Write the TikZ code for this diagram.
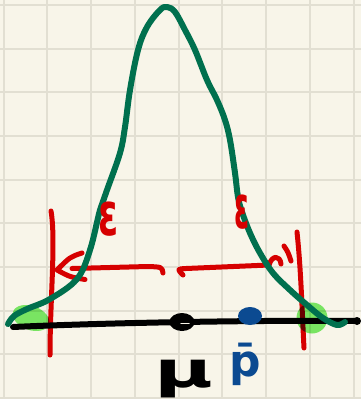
\documentclass[tikz,border=0pt]{standalone}
\usepackage{fontspec}
\setmainfont{DejaVu Sans}
\definecolor{paper}{HTML}{F8F5E9}
\definecolor{gridc}{HTML}{E2DFD2}
\definecolor{curvegreen}{HTML}{00704E}
\definecolor{penred}{HTML}{D60000}
\definecolor{penblue}{HTML}{0B4A91}
\definecolor{hilite}{HTML}{7DEE6C}
\begin{document}
\begin{tikzpicture}[x=1pt,y=-1pt,
  gridline/.style={gridc,line width=2pt},
  redpen/.style={penred,line width=5pt,line cap=round,line join=round},
  greenpen/.style={curvegreen,line width=6pt,line cap=round,line join=round},
  blackpen/.style={black,line width=6pt,line cap=round},
  lbl/.style={inner sep=0pt}]
\fill[paper] (0,0) rectangle (361,399);
\useasboundingbox (0,0) rectangle (361,399);
% grid
\foreach \i in {0,...,8} \draw[gridline] ({3.5+43.75*\i},0) -- ({3.5+43.75*\i},399);
\foreach \j in {0,...,9} \draw[gridline] (0,{5+43.67*\j}) -- (361,{5+43.67*\j});
% red vertical limits
\coordinate (L1) at (51,211);
\coordinate (L2) at (50,355);
\coordinate (R1) at (297,232);
\coordinate (R2) at (304,348);
\draw[redpen] (L1) .. controls (56,240) and (50,300) .. (L2);
\draw[redpen] (R1) .. controls (301,270) and (302,310) .. (R2);
% left arrow
\coordinate (AL) at (57,270);
\coordinate (AM) at (163,273);
\coordinate (AS) at (72,268.5);
\draw[redpen] (AM) .. controls (162,267) .. (148,266.5) -- (AS);
\draw[redpen] (82,253) .. controls (70,257) .. (AL) .. controls (70,277) .. (85,279.5);
% right arrow
\coordinate (BM) at (183,275);
\coordinate (BE) at (269,265);
\draw[redpen] (BM) .. controls (177,269) .. (186,268.5) -- (BE);
\draw[redpen] (BE) .. controls (272,255) and (280,255) .. (281,264);
\draw[redpen] (284,246) .. controls (288,252) .. (291,261);
% highlights
\begin{scope}[blend mode=multiply]
\fill[hilite, rotate around={-20:(31,318)}] (31,318) ellipse [x radius=19, y radius=12];
\fill[hilite] (312,318) circle (15.5);
\end{scope}
% axis
\coordinate (X1) at (13,327);
\coordinate (X2) at (357,321);
\draw[blackpen] (X1) .. controls (100,323) and (250,320) .. (X2);
\fill (X2) circle (4);
\fill (182,322) ellipse [x radius=12.5, y radius=9];
\draw[paper, line width=1.5pt, line cap=round] (181,323.5) -- (189,323.5);
\fill[penblue] (250,316) ellipse [x radius=12, y radius=9];
% bell curve
\draw[greenpen] plot[smooth, tension=0.6] coordinates {(8,324) (14,316) (27,309) (50,299) (77,279) (90,250) (100,210) (107,190) (120,153) (125,127) (130,90) (138,50) (147,27) (160,10) (167,7) (175,12) (185,30) (195,50) (207,80) (217,100) (225,120) (230,140) (235,173) (238,197) (242,212) (250,233) (260,253) (273,273) (290,290) (307,305) (323,318) (337,325) (345,322)};
% labels
\node[lbl, text=penred, font=\bfseries\fontsize{60}{60}\selectfont, xscale=0.6] (epsL) at (109,219) {ε};
\node[lbl, text=penred, font=\bfseries\fontsize{60}{60}\selectfont, xscale=0.45] (epsR) at (242,212) {ε};
\node[lbl, font=\bfseries\fontsize{50}{50}\selectfont, xscale=1.6] (mu) at (184,379) {μ};
\node[lbl, text=penblue, font=\bfseries\fontsize{44}{44}\selectfont] (pbar) at (245,364) {\={p}};
\end{tikzpicture}
\end{document}
